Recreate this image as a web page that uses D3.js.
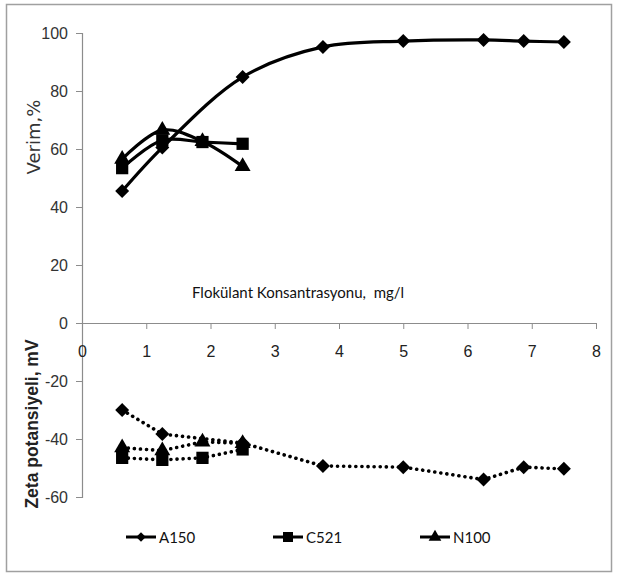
<!DOCTYPE html>
<html>
<head>
<meta charset="utf-8">
<script src="https://cdn.jsdelivr.net/npm/d3@7"></script>
<style>
  body { margin: 0; background: #ffffff; }
  svg { display: block; }
</style>
</head>
<body>
<div id="chart"></div>
<script>
// concentration values (mg/l)
const xA150 = [0.625, 1.25, 2.5, 3.75, 5, 6.25, 6.875, 7.5];
const xShort = [0.625, 1.25, 1.875, 2.5];

// verim (%)
const verimA150 = [45.5, 60.5, 84.8, 95.2, 97.2, 97.6, 97.2, 96.9];
const verimC521 = [53.4, 63, 62.4, 61.8];
const verimN100 = [56.5, 66.5, 62.6, 54];

// zeta potansiyeli (mV)
const zetaA150 = [-30, -38.3, -41.4, -49.3, -49.7, -54, -49.7, -50.3];
const zetaC521 = [-46.5, -47.2, -46.5, -43.6];
const zetaN100 = [-43, -44, -41, -41.5];

const xTicks = [0, 1, 2, 3, 4, 5, 6, 7, 8];
const yTicks = [100, 80, 60, 40, 20, 0, -20, -40, -60];
const seriesNames = ["A150", "C521", "N100"];

const width = 618;
const height = 574;

const svg = d3.select("#chart")
  .append("svg")
  .attr("width", width)
  .attr("height", height)
  .style("background", "#ffffff");

// outer frame
svg.append("rect")
  .attr("x", 6.5)
  .attr("y", 4.5)
  .attr("width", 605)
  .attr("height", 567)
  .attr("fill", "none")
  .attr("stroke", "#a0a0a0")
  .attr("stroke-width", 1.5);

const xScale = d3.scaleLinear().domain([0, 8]).range([82, 596]);
const yScale = d3.scaleLinear().domain([-60, 100]).range([497, 33]);

// y axis
const yAxis = svg.append("g")
  .attr("transform", `translate(${xScale(0)}, 0)`)
  .call(d3.axisLeft(yScale).tickValues(yTicks).tickSize(6).tickPadding(8).tickFormat(d3.format("d")));
yAxis.select(".domain").attr("stroke", "#8c8c8c").attr("stroke-width", 1.2);
yAxis.selectAll(".tick line").attr("stroke", "#8c8c8c");
yAxis.selectAll(".tick text")
  .attr("fill", "#333")
  .style("font-family", "'Liberation Sans', Arial, sans-serif")
  .style("font-size", "16px")
  .text(d => d < 0 ? "-" + Math.abs(d) : d);

// x axis, crossing at zero
const xAxis = svg.append("g")
  .attr("transform", `translate(0, ${yScale(0)})`)
  .call(d3.axisBottom(xScale).tickValues(xTicks).tickSize(6).tickSizeOuter(0));
xAxis.select(".domain").attr("stroke", "#8c8c8c").attr("stroke-width", 1.2);
xAxis.selectAll(".tick line").attr("stroke", "#8c8c8c");
xAxis.selectAll(".tick text")
  .attr("y", 34)
  .attr("dy", 0)
  .attr("fill", "#222")
  .style("font-family", "'Liberation Sans', Arial, sans-serif")
  .style("font-size", "16px");

// axis titles
svg.append("text")
  .attr("transform", `translate(40, 137) rotate(-90)`)
  .attr("text-anchor", "middle")
  .attr("fill", "#333")
  .style("font-family", "'DejaVu Sans', Verdana, sans-serif")
  .style("font-size", "18px")
  .text("Verim,%");

svg.append("text")
  .attr("transform", `translate(38, 424) rotate(-90)`)
  .attr("text-anchor", "middle")
  .attr("fill", "#222")
  .style("font-family", "'Liberation Sans', Arial, sans-serif")
  .style("font-weight", "bold")
  .style("font-size", "17.5px")
  .text("Zeta potansiyeli, mV");

svg.append("text")
  .attr("x", 192)
  .attr("y", 298)
  .attr("fill", "#111")
  .style("font-family", "Lato, sans-serif")
  .style("font-size", "15px")
  .attr("xml:space", "preserve")
  .text("Flokülant Konsantrasyonu,  mg/l");

// markers
const markerPath = {
  A150: d3.symbol(d3.symbolSquare, 98)(),
  C521: d3.symbol(d3.symbolSquare, 150)(),
  N100: d3.symbol(d3.symbolTriangle, 110)()
};
const markerRotate = { A150: 45, C521: 0, N100: 0 };

function drawSeries(xs, ys, name, dotted) {
  const pts = xs.map((x, i) => [x, ys[i]]);
  const line = d3.line()
    .x(d => xScale(d[0]))
    .y(d => yScale(d[1]))
    .curve(dotted ? d3.curveLinear : d3.curveCatmullRom.alpha(0.5));

  const path = svg.append("path")
    .datum(pts)
    .attr("d", line)
    .attr("fill", "none")
    .attr("stroke", "#000");
  if (dotted) {
    path.attr("stroke-width", 3.6)
      .attr("stroke-linecap", "round")
      .attr("stroke-dasharray", "0.1,6");
  } else {
    path.attr("stroke-width", 3.2)
      .attr("stroke-linejoin", "round");
  }

  svg.append("g")
    .selectAll("path")
    .data(pts)
    .join("path")
    .attr("d", markerPath[name])
    .attr("transform", d => `translate(${xScale(d[0])}, ${yScale(d[1])}) rotate(${markerRotate[name]})`)
    .attr("fill", "#000");
}

drawSeries(xA150, verimA150, "A150", false);
drawSeries(xShort, verimC521, "C521", false);
drawSeries(xShort, verimN100, "N100", false);
drawSeries(xA150, zetaA150, "A150", true);
drawSeries(xShort, zetaC521, "C521", true);
drawSeries(xShort, zetaN100, "N100", true);

// legend
const legendX = [126, 273, 420];
const legendY = 537;
const legendMarker = {
  A150: d3.symbol(d3.symbolSquare, 45)(),
  C521: d3.symbol(d3.symbolSquare, 100)(),
  N100: d3.symbol(d3.symbolTriangle, 70)()
};
const legend = svg.append("g")
  .selectAll("g")
  .data(seriesNames)
  .join("g")
  .attr("transform", (d, i) => `translate(${legendX[i]}, ${legendY})`);

legend.append("line")
  .attr("x1", 0)
  .attr("x2", 30)
  .attr("stroke", "#000")
  .attr("stroke-width", 3);

legend.append("path")
  .attr("d", d => legendMarker[d])
  .attr("transform", d => `translate(15, 0) rotate(${markerRotate[d]})`)
  .attr("fill", "#000");

legend.append("text")
  .attr("x", 33)
  .attr("y", 5.5)
  .attr("fill", "#111")
  .style("font-family", "Lato, sans-serif")
  .style("font-size", "15px")
  .text(d => d);
</script>
</body>
</html>
